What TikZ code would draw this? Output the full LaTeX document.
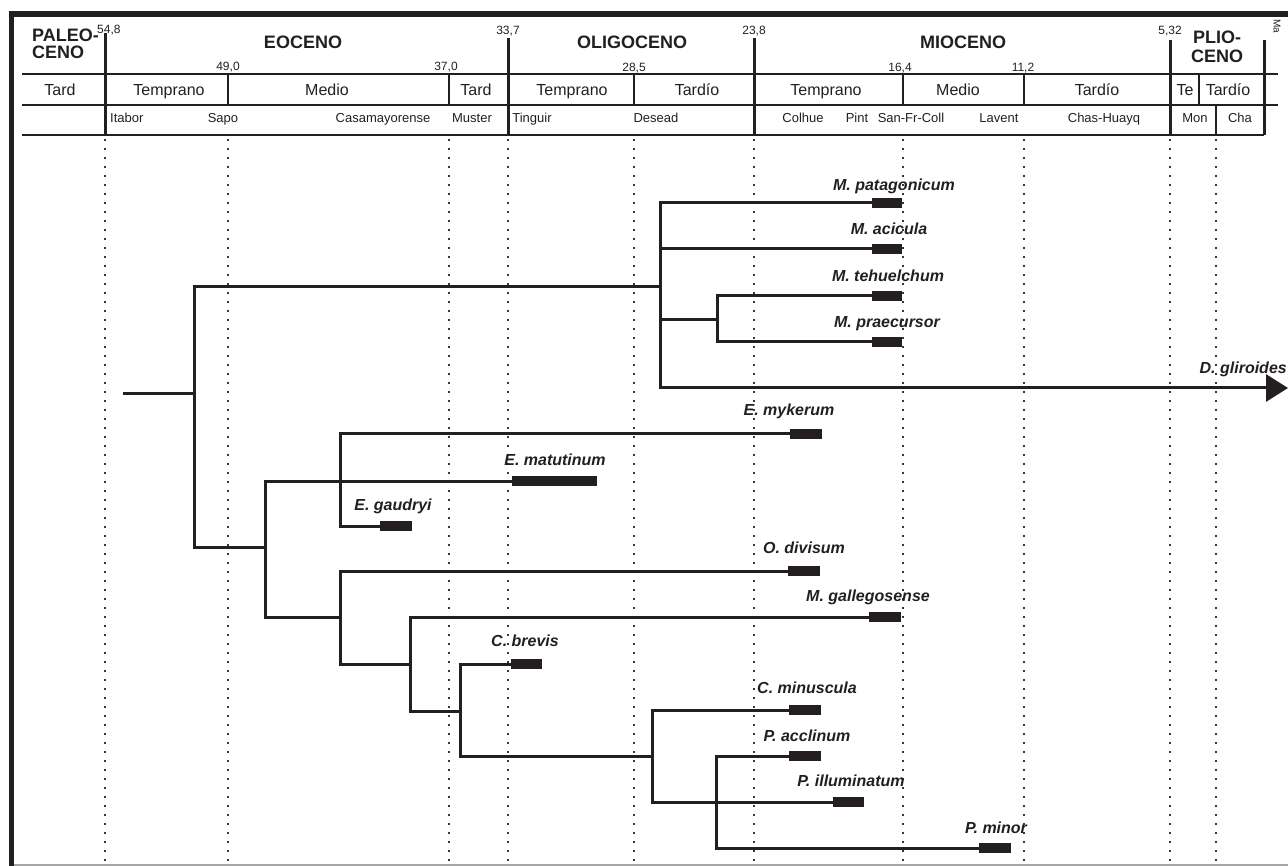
\documentclass[tikz,border=0pt]{standalone}
\usepackage{fontspec}
\setmainfont{Liberation Sans}
\usetikzlibrary{arrows.meta}
\definecolor{ink}{RGB}{35,31,32}
\begin{document}
\begin{tikzpicture}[x=1pt,y=-1pt,
  tree/.style={draw=ink,line width=3pt,line join=miter},
  bar/.style={fill=ink,inner sep=0pt,minimum height=10pt,draw=none},
  sp/.style={font=\fontsize{16}{18}\selectfont\bfseries\itshape,text=ink,inner sep=0pt,anchor=base},
  epoch/.style={font=\fontsize{18}{19}\selectfont\bfseries,text=ink,inner sep=0pt,anchor=base},
  age/.style={font=\fontsize{16}{18}\selectfont,text=ink,inner sep=0pt,anchor=base},
  stage/.style={font=\fontsize{13}{15}\selectfont,text=ink,inner sep=0pt,anchor=base},
  num/.style={font=\fontsize{12}{14}\selectfont,text=ink,inner sep=0pt,anchor=base},
  hthick/.style={draw=ink,line width=3pt},
  hthin/.style={draw=ink,line width=1.4pt},
  dotline/.style={draw=ink!90,line width=1.7pt,dash pattern=on 1.7pt off 7.3pt}]
\useasboundingbox (0,0) rectangle (1288,866);
% frame
\fill[ink] (9,11) rectangle (1288,17);
\fill[ink] (9,11) rectangle (14,866);
\draw[gray!70,line width=1.2pt] (14,865) -- (1288,865);
% dotted time lines
\foreach \x in {105,228,449,508,634,754,903,1024,1170,1216}
  \draw[dotline] (\x,139) -- (\x,864);
% header grid
\draw[hthin] (22,74) -- (1278,74);
\draw[hthin] (22,105) -- (1278,105);
\draw[hthin] (22,135) -- (1264,135);
\draw[hthick] (105,33) -- (105,135);
\draw[hthick] (508,38) -- (508,135);
\draw[hthick] (754,38) -- (754,135);
\draw[hthick] (1170,40) -- (1170,135);
\draw[hthick] (1264,40) -- (1264,135);
\foreach \x in {228,449,634,903,1024,1199}
  \draw[hthin] (\x,74) -- (\x,105);
\draw[hthin] (1216,105) -- (1216,135);
% epochs
\node[epoch,anchor=base west] (e-paleo1) at (32,42) {PALEO-};
\node[epoch,anchor=base west] (e-paleo2) at (32,59) {CENO};
\node[epoch] (e-eoc) at (303,49) {EOCENO};
\node[epoch] (e-oli) at (632,49) {OLIGOCENO};
\node[epoch] (e-mio) at (963,49) {MIOCENO};
\node[epoch] (e-plio1) at (1217,44) {PLIO-};
\node[epoch] (e-plio2) at (1217,63) {CENO};
\node[font=\fontsize{10}{11}\selectfont,text=ink,inner sep=0pt,rotate=-90] (ma) at (1277,26) {Ma};
% ages (numbers)
\node[num,anchor=base west] (a548) at (97,34) {54,8};
\node[num] (a490) at (228,71) {49,0};
\node[num] (a370) at (446,71) {37,0};
\node[num] (a337) at (508,35) {33,7};
\node[num] (a285) at (634,72) {28,5};
\node[num] (a238) at (754,35) {23,8};
\node[num] (a164) at (900,72) {16,4};
\node[num] (a112) at (1023,72) {11,2};
\node[num] (a532) at (1170,35) {5,32};
% subepochs
\node[age] (s1) at (60,96) {Tard};
\node[age] (s2) at (169,96) {Temprano};
\node[age] (s3) at (327,96) {Medio};
\node[age] (s4) at (476,96) {Tard};
\node[age] (s5) at (572,96) {Temprano};
\node[age] (s6) at (697,96) {Tardío};
\node[age] (s7) at (826,96) {Temprano};
\node[age] (s8) at (958,96) {Medio};
\node[age] (s9) at (1097,96) {Tardío};
\node[age] (s10) at (1185,96) {Te};
\node[age] (s11) at (1228,96) {Tardío};
% SALMA
\node[stage,anchor=base west] (t1) at (110,123) {Itabor};
\node[stage] (t2) at (223,123) {Sapo};
\node[stage] (t3) at (383,123) {Casamayorense};
\node[stage] (t4) at (472,123) {Muster};
\node[stage] (t5) at (532,123) {Tinguir};
\node[stage] (t6) at (656,123) {Desead};
\node[stage] (t7) at (803,123) {Colhue};
\node[stage] (t8) at (857,123) {Pint};
\node[stage] (t9) at (911,123) {San-Fr-Coll};
\node[stage] (t10) at (999,123) {Lavent};
\node[stage] (t11) at (1104,123) {Chas-Huayq};
\node[stage] (t12) at (1195,123) {Mon};
\node[stage] (t13) at (1240,123) {Cha};
% range bars
\node[bar,minimum width=30pt] (b-patag) at (887,203) {};
\node[bar,minimum width=30pt] (b-acic) at (887,249) {};
\node[bar,minimum width=30pt] (b-tehu) at (887,296) {};
\node[bar,minimum width=30pt] (b-praec) at (887,342) {};
\node[bar,minimum width=32pt] (b-myk) at (806,434) {};
\node[bar,minimum width=85pt] (b-mat) at (554.5,481) {};
\node[bar,minimum width=32pt] (b-gaud) at (396,526) {};
\node[bar,minimum width=32pt] (b-div) at (804,571) {};
\node[bar,minimum width=32pt] (b-gall) at (885,617) {};
\node[bar,minimum width=31pt] (b-brev) at (526.5,664) {};
\node[bar,minimum width=32pt] (b-minus) at (805,710) {};
\node[bar,minimum width=32pt] (b-accl) at (805,756) {};
\node[bar,minimum width=31pt] (b-illum) at (848.5,802) {};
\node[bar,minimum width=32pt] (b-minor) at (995,848) {};
% tree nodes
\coordinate (root) at (123,394);
\coordinate (n1) at (194,394);
\coordinate (nA) at (660,287);
\coordinate (nAs) at (717,320);
\coordinate (nB) at (265,547);
\coordinate (nC) at (340,481);
\coordinate (nD) at (340,617);
\coordinate (nE) at (410,664);
\coordinate (nF) at (460,711);
\coordinate (nG) at (652,756);
\coordinate (nH) at (716,802);
\coordinate (gl) at (1288,388);
% branches
\draw[tree] (root) -- (n1);
\draw[tree] (n1) |- (nA);
\draw[tree] (n1) |- (nB);
\draw[tree] (nA) |- (b-patag.west);
\draw[tree] (nA) |- (b-acic.west);
\draw[tree] (nA) |- (nAs);
\draw[tree,-{Triangle[length=22pt,width=27pt]}] (nA) |- (gl);
\draw[tree] (nAs) |- (b-tehu.west);
\draw[tree] (nAs) |- (b-praec.west);
\draw[tree] (nB) |- (b-mat.west);
\draw[tree] (nB) |- (nD);
\draw[tree] (nC) |- (b-myk.west);
\draw[tree] (nC) |- (b-gaud.west);
\draw[tree] (nD) |- (b-div.west);
\draw[tree] (nD) |- (nE);
\draw[tree] (nE) |- (b-gall.west);
\draw[tree] (nE) |- (nF);
\draw[tree] (nF) |- (b-brev.west);
\draw[tree] (nF) |- (nG);
\draw[tree] (nG) |- (b-minus.west);
\draw[tree] (nG) |- (b-illum.west);
\draw[tree] (nH) |- (b-accl.west);
\draw[tree] (nH) |- (b-minor.west);
% species labels
\node[sp] (l-patag) at (894,191) {M. patagonicum};
\node[sp] (l-acic) at (889,235) {M. acicula};
\node[sp] (l-tehu) at (888,282) {M. tehuelchum};
\node[sp] (l-praec) at (887,328) {M. praecursor};
\node[sp,anchor=base east] (l-glir) at (1287,374) {D. gliroides};
\node[sp] (l-myk) at (789,416) {E. mykerum};
\node[sp] (l-mat) at (555,465) {E. matutinum};
\node[sp] (l-gaud) at (393,510) {E. gaudryi};
\node[sp] (l-div) at (804,553) {O. divisum};
\node[sp] (l-gall) at (868,601) {M. gallegosense};
\node[sp] (l-brev) at (525,646) {C. brevis};
\node[sp] (l-minus) at (807,693) {C. minuscula};
\node[sp] (l-accl) at (807,741) {P. acclinum};
\node[sp] (l-illum) at (851,786) {P. illuminatum};
\node[sp] (l-minor) at (996,833) {P. minor};
\end{tikzpicture}
\end{document}
